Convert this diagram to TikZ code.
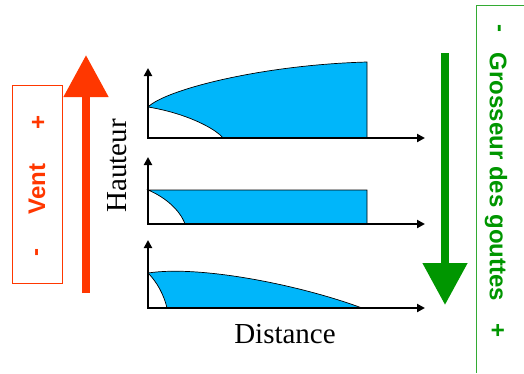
\documentclass[tikz,border=0pt]{standalone}
\usepackage{fontspec}
\setmainfont{Liberation Serif}
\setsansfont{Liberation Sans}
\usetikzlibrary{arrows.meta, positioning}
\definecolor{plRed}{RGB}{255,55,0}
\definecolor{plGreen}{RGB}{0,150,0}
\definecolor{plCyan}{RGB}{0,182,250}

\begin{document}
\begin{tikzpicture}[
    x=1pt, y=-1pt,
    axis/.style={{Triangle[length=8pt,width=8pt]}-{Triangle[length=8pt,width=8pt]},
                 line width=2.8pt, line join=miter},
    spray/.style={fill=plCyan, draw=black, line width=0.7pt},
    bigarr/.style={-{Triangle[length=42pt,width=43pt]}, line width=8pt},
    lbl/.style={font=\fontsize{29}{31}\selectfont, inner sep=0pt},
    tag/.style={font=\sffamily\bfseries\fontsize{24}{26}\selectfont, inner sep=0pt}
]
\useasboundingbox (0,0) rectangle (524,373);

% wind box and arrow
\node[draw=plRed, line width=0.8pt, minimum width=50pt, minimum height=198pt,
      inner sep=0pt] (ventbox) at (37,184) {};
\node[tag, text=plRed, rotate=90] (vent)      at (37,189) {Vent};
\node[tag, text=plRed, rotate=90] (ventplus)  at (39,122) {+};
\node[tag, text=plRed, rotate=90] (ventminus) at (39,252) {-};
\coordinate (windlow)  at (86,293);
\coordinate (windhigh) at (86,55);
\draw[bigarr, plRed] (windlow) -- (windhigh);

% drop size box and arrow
\draw[plGreen!80, line width=0.8pt] (524,5) -- (476,5) -- (476,373);
\node[tag, text=plGreen, rotate=-90] (drops)      at (496,177) {Grosseur des gouttes};
\node[tag, text=plGreen, rotate=-90] (dropsminus) at (497,28)  {-};
\node[tag, text=plGreen, rotate=-90] (dropsplus)  at (497,330) {+};
\coordinate (dropstop)    at (445,53);
\coordinate (dropsbottom) at (445,305);
\draw[bigarr, plGreen] (dropstop) -- (dropsbottom);

% spray profiles
\draw[spray] (148,107) .. controls (165,90) and (260,65) .. (367,62)
   -- (367,138) -- (223,138) .. controls (215,128) and (185,113) .. cycle;
\draw[spray] (148,190) -- (367,190) -- (367,224) -- (185,224)
   .. controls (180,210) and (165,197) .. cycle;
\draw[spray] (148,273) .. controls (200,265) and (300,285) .. (362,308)
   -- (167,308) .. controls (164,295) and (157,282) .. cycle;

\foreach \yb/\yt in {138/68, 224/157, 308/240}
  \draw[axis] (148,\yt) -- (148,\yb) -- (425,\yb);

\node[lbl, rotate=90] (hauteur) at (117,166) {Hauteur};
\node[lbl, anchor=base] (distance) at (285,343) {Distance};
\end{tikzpicture}
\end{document}
